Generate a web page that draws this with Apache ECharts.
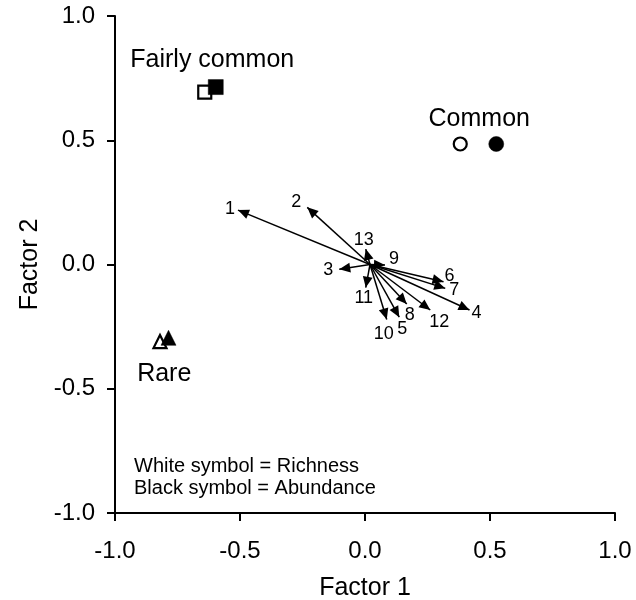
<!DOCTYPE html>
<html>
<head>
<meta charset="utf-8">
<script src="https://cdn.jsdelivr.net/npm/echarts@6/dist/echarts.min.js"></script>
<style>
  html, body { margin: 0; padding: 0; background: #fff; }
  #main { width: 636px; height: 600px; }
</style>
</head>
<body>
<div id="main"></div>
<script>
// groups: white symbol = richness, black symbol = abundance
const groups = ["Fairly common", "Common", "Rare"];
const groupSymbols = ["rect", "circle", "triangle"];
const richnessX = [-0.641, 0.381, -0.82];
const richnessY = [0.694, 0.485, -0.31];
const abundanceX = [-0.597, 0.525, -0.786];
const abundanceY = [0.714, 0.485, -0.295];

// variable vectors (arrows)
const variables = ["1", "2", "3", "4", "5", "6", "7", "8", "9", "10", "11", "12", "13"];
const loadX = [-0.508, -0.231, -0.103, 0.418, 0.137, 0.314, 0.321, 0.167, 0.080, 0.087, 0.003, 0.261, 0.003];
const loadY = [0.219, 0.230, -0.019, -0.183, -0.212, -0.069, -0.096, -0.159, -0.002, -0.221, -0.093, -0.183, 0.062];
const arrowOrigin = [0.02, 0.0];

const axisTicks = [-1.0, -0.5, 0.0, 0.5, 1.0];

// label nudges (px) for the arrow numbers and group names
const numberNudge = [[-8, -1], [-11, -5], [-11, 1], [7, 3], [3, 12], [6, -6], [9, 2],
  [3, 11], [9, -6], [-3, 15], [-2, 10], [9, 12], [-2, -9]];
const groupNudge = [[2, -29], [1, -25], [0, 34]];

const font = "Arial, 'Liberation Sans', Helvetica, sans-serif";
// arrow head with its tip at the symbol centre
const arrowHead = "path://M-10,0 M10,0 M0,10 L-4.5,20 L4.5,20 Z";

const chart = echarts.init(document.getElementById("main"));

const axisCommon = {
  type: "value",
  min: axisTicks[0],
  max: axisTicks[axisTicks.length - 1],
  interval: 0.5,
  splitLine: { show: false },
  axisLine: { show: true, onZero: false, lineStyle: { color: "#000", width: 2 } },
  axisTick: { show: true, length: 8, lineStyle: { color: "#000", width: 2 } },
  nameLocation: "middle",
  nameTextStyle: { color: "#000", fontSize: 25, fontFamily: font },
};

const textLabel = {
  show: true,
  position: "inside",
  color: "#000",
  opacity: 1,
  textBorderWidth: 0,
  fontFamily: font,
};

let option = {
  animation: false,
  backgroundColor: "#fff",
  grid: { left: 115, right: 21, top: 16, bottom: 87, outerBoundsMode: "none", containLabel: false },
  xAxis: Object.assign({}, axisCommon, {
    name: "Factor 1",
    nameGap: 63,
    axisLabel: { color: "#000", fontSize: 24, fontFamily: font, margin: 26,
      formatter: (v) => v.toFixed(1) },
  }),
  yAxis: Object.assign({}, axisCommon, {
    name: "Factor 2",
    nameGap: 71,
    axisLabel: { color: "#000", fontSize: 24, fontFamily: font, margin: 20,
      formatter: (v) => v.toFixed(1) },
  }),
  graphic: [
    {
      type: "text",
      left: 134,
      top: 455,
      style: {
        text: "White symbol = Richness\nBlack symbol = Abundance",
        fill: "#000",
        font: "20px " + font,
        lineHeight: 22,
      },
    },
  ],
  series: [
    {
      type: "lines",
      coordinateSystem: "cartesian2d",
      symbol: ["none", arrowHead],
      symbolSize: [0, 22],
      lineStyle: { color: "#000", width: 1.5, opacity: 1 },
      data: variables.map((v, i) => ({
        coords: [arrowOrigin, [loadX[i], loadY[i]]],
      })),
      z: 3,
    },
    {
      type: "scatter",
      symbol: "circle",
      symbolSize: 1,
      itemStyle: { color: "rgba(255,255,255,0)", opacity: 1 },
      silent: true,
      label: Object.assign({}, textLabel, {
        fontSize: 18,
        formatter: (p) => variables[p.dataIndex],
      }),
      data: variables.map((v, i) => ({
        value: [loadX[i], loadY[i]],
        label: { offset: numberNudge[i] },
      })),
      z: 4,
    },
    {
      name: "Richness",
      type: "scatter",
      data: groups.map((g, i) => ({
        value: [richnessX[i], richnessY[i]],
        symbol: groupSymbols[i],
      })),
      symbolSize: 13,
      itemStyle: { color: "#fff", borderColor: "#000", borderWidth: 2.2, opacity: 1 },
      z: 5,
    },
    {
      name: "Abundance",
      type: "scatter",
      data: groups.map((g, i) => ({
        value: [abundanceX[i], abundanceY[i]],
        symbol: groupSymbols[i],
      })),
      symbolSize: 15,
      itemStyle: { color: "#000", borderColor: "#000", borderWidth: 0.5, opacity: 1 },
      z: 6,
    },
    {
      type: "scatter",
      symbol: "circle",
      symbolSize: 1,
      itemStyle: { color: "rgba(255,255,255,0)", opacity: 1 },
      silent: true,
      label: Object.assign({}, textLabel, {
        fontSize: 25,
        formatter: (p) => groups[p.dataIndex],
      }),
      data: groups.map((g, i) => ({
        value: [(richnessX[i] + abundanceX[i]) / 2, (richnessY[i] + abundanceY[i]) / 2],
        label: { offset: groupNudge[i] },
      })),
      z: 7,
    },
  ],
};

chart.setOption(option);
</script>
</body>
</html>
